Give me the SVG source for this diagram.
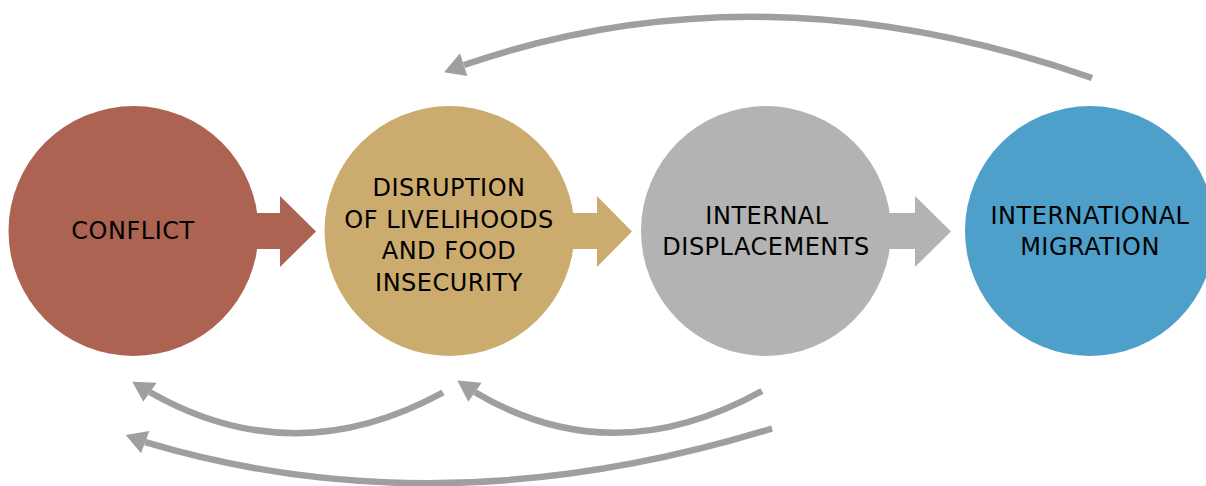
<svg xmlns="http://www.w3.org/2000/svg" width="1206" height="486" viewBox="0 0 1206 486">
<style>
.lbl{font-family:"DejaVu Sans","Verdana",sans-serif;font-size:24px;letter-spacing:0.5px;fill:#000;text-anchor:middle}
.arc{fill:none;stroke:#9F9F9F;stroke-width:6.5}
.head{fill:#9F9F9F}
</style>
<rect width="1206" height="486" fill="#fff"/>
<g id="block-arrows">
<path d="M250 213H280V196L316 231.5L280 267V249H250Z" fill="#AC6352"/>
<path d="M565 213H597V196L632 231.5L597 267V249H565Z" fill="#CCAC6E"/>
<path d="M882 213H915V196L951 231.5L915 267V249H882Z" fill="#B3B3B3"/>
</g>
<g id="conflict">
<circle cx="133.5" cy="231" r="125" fill="#AC6352"/>
<text class="lbl" x="133" y="238.5">CONFLICT</text>
</g>
<g id="disruption">
<circle cx="449.5" cy="231" r="125" fill="#CCAC6E"/>
<text class="lbl" x="449" y="196">DISRUPTION</text>
<text class="lbl" x="449" y="227.5">OF LIVELIHOODS</text>
<text class="lbl" x="449" y="259">AND FOOD</text>
<text class="lbl" x="449" y="290.5">INSECURITY</text>
</g>
<g id="internal">
<circle cx="766" cy="231" r="125" fill="#B3B3B3"/>
<text class="lbl" x="767" y="223.5">INTERNAL</text>
<text class="lbl" x="766" y="254.5">DISPLACEMENTS</text>
</g>
<g id="international">
<circle cx="1090" cy="231" r="125" fill="#4EA0CB"/>
<text class="lbl" x="1090" y="223.5">INTERNATIONAL</text>
<text class="lbl" x="1090" y="254.5">MIGRATION</text>
</g>
<g id="connectors">
<path class="arc" d="M1092 78Q762 -37.5 464 65"/>
<polygon class="head" points="444,72.3 460,53.3 467.3,76"/>
<path class="arc" d="M443 392.5Q293.5 474 150 392.2"/>
<polygon class="head" points="132.3,381.7 156.7,382.7 143.3,401.7"/>
<path class="arc" d="M762 391Q612 474 475 392.2"/>
<polygon class="head" points="457.3,380.5 481.7,382.7 468.3,401.7"/>
<path class="arc" d="M772 428.5Q441.4 530.6 145.2 442.2"/>
<polygon class="head" points="125.7,435 149.3,431 141,453.3"/>
</g>
</svg>
